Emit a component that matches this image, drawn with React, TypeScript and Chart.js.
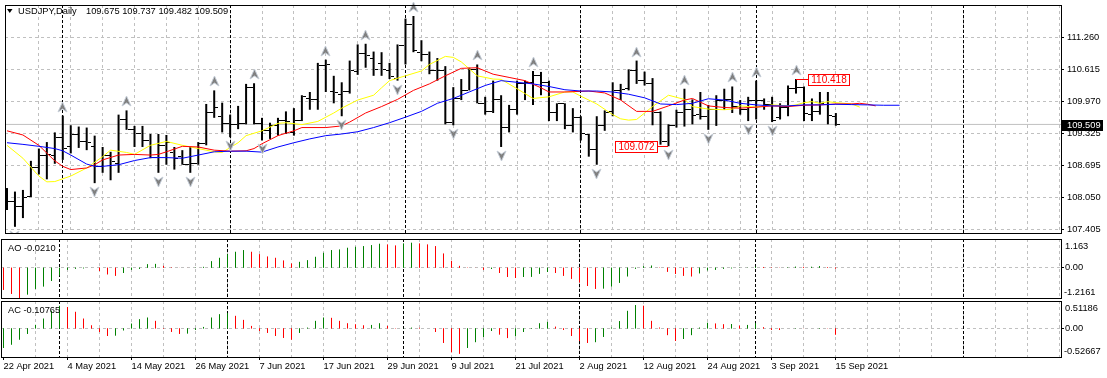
import React, { useEffect, useRef } from 'react';
import { Chart, registerables } from 'chart.js';

Chart.register(...registerables);

/* ---------------- values ---------------- */
const symbolTitle = 'USDJPY,Daily';
const xTickLabels = ['22 Apr 2021', '4 May 2021', '14 May 2021', '26 May 2021', '7 Jun 2021', '17 Jun 2021', '29 Jun 2021', '9 Jul 2021', '21 Jul 2021', '2 Aug 2021', '12 Aug 2021', '24 Aug 2021', '3 Sep 2021', '15 Sep 2021'];
const barsPerLabel = 8;
const gridEveryBars = 4;
const monthStartBars = [7, 28, 50, 72, 94, 120];
const priceTicks = [111.26, 110.615, 109.97, 109.325, 108.695, 108.05, 107.405];
const priceViewMin = 107.333;
const priceViewMax = 111.902;
const lastPrice = 109.509;

const open = [
  107.975, 107.956, 107.859, 108.066, 108.649, 108.895, 108.895, 109.252, 109.057, 109.297,
  109.168, 109.057, 108.669, 108.895, 108.733, 109.608, 109.414, 109.317, 109.187, 108.844,
  109.090, 108.947, 108.863, 108.701, 108.733, 109.122, 109.738, 109.673, 109.530, 109.517,
  109.530, 110.256, 109.530, 109.381, 109.492, 109.595, 109.349, 109.595, 110.029, 110.016,
  110.697, 110.178, 110.114, 110.178, 110.567, 110.937, 110.839, 110.723, 110.580, 110.438,
  111.099, 111.520, 110.956, 110.904, 110.593, 110.580, 109.556, 110.029, 110.191, 110.613,
  109.932, 109.770, 110.010, 109.446, 109.816, 110.321, 110.353, 110.483, 110.353, 109.751,
  109.919, 109.479, 109.641, 109.297, 109.012, 109.479, 109.770, 110.191, 110.224, 110.580,
  110.399, 110.321, 109.751, 109.168, 109.479, 109.751, 109.803, 109.705, 109.673, 109.803,
  109.997, 110.010, 109.867, 109.803, 109.997, 109.984, 109.900, 109.641, 109.855, 110.224,
  110.243, 109.705, 109.770, 109.900, 109.675,
];
const high = [
  108.234, 108.163, 108.196, 108.779, 109.025, 109.155, 109.349, 109.686, 109.492, 109.466,
  109.446, 109.284, 109.057, 108.960, 109.705, 109.790, 109.479, 109.479, 109.317, 109.317,
  109.297, 109.057, 108.993, 109.057, 109.155, 109.919, 110.191, 109.945, 109.705, 109.880,
  110.321, 110.334, 109.641, 109.543, 109.641, 109.770, 109.835, 110.094, 110.159, 110.742,
  110.807, 110.483, 110.353, 110.788, 111.112, 111.125, 110.969, 110.956, 110.742, 111.112,
  111.630, 111.682, 111.196, 110.969, 110.839, 110.677, 110.256, 110.418, 110.645, 110.710,
  110.062, 110.386, 110.094, 109.900, 110.386, 110.386, 110.580, 110.561, 110.386, 109.932,
  109.932, 109.835, 109.673, 109.317, 109.673, 109.790, 110.353, 110.321, 110.613, 110.788,
  110.567, 110.437, 109.770, 109.511, 109.803, 110.224, 110.010, 110.159, 109.900, 110.094,
  110.224, 110.269, 109.997, 110.062, 110.386, 110.029, 110.062, 109.932, 110.289, 110.418,
  110.269, 110.029, 110.159, 110.159, 109.737,
];
const low = [
  107.794, 107.457, 107.632, 108.053, 108.507, 108.409, 108.720, 108.798, 108.928, 109.038,
  108.993, 108.332, 108.539, 108.390, 108.539, 109.401, 109.057, 109.057, 108.831, 108.539,
  108.701, 108.604, 108.701, 108.539, 108.701, 109.090, 109.641, 109.349, 109.252, 109.414,
  109.511, 109.511, 109.187, 109.219, 109.284, 109.317, 109.284, 109.576, 109.803, 109.803,
  110.159, 109.932, 109.673, 110.127, 110.502, 110.645, 110.483, 110.483, 110.418, 110.386,
  110.710, 110.956, 110.775, 110.515, 110.386, 109.511, 109.492, 109.997, 110.191, 109.932,
  109.705, 109.738, 109.057, 109.349, 109.705, 109.997, 109.900, 110.094, 109.576, 109.576,
  109.414, 109.349, 109.187, 108.863, 108.701, 109.381, 109.673, 109.997, 110.191, 110.321,
  110.289, 109.492, 109.103, 109.072, 109.446, 109.466, 109.511, 109.608, 109.401, 109.479,
  109.803, 109.738, 109.705, 109.576, 109.608, 109.803, 109.556, 109.608, 109.673, 110.127,
  109.576, 109.576, 109.705, 109.511, 109.482,
];
const close = [
  107.956, 107.859, 108.053, 108.649, 108.895, 108.908, 109.252, 109.025, 109.297, 109.168,
  109.155, 108.669, 108.895, 108.766, 109.608, 109.414, 109.317, 109.187, 108.844, 109.090,
  109.142, 108.831, 108.701, 108.733, 109.122, 109.738, 109.854, 109.530, 109.517, 109.530,
  110.256, 109.530, 109.381, 109.492, 109.595, 109.576, 109.595, 110.062, 110.016, 110.697,
  110.710, 110.140, 110.178, 110.580, 110.937, 110.891, 110.613, 110.613, 110.464, 111.099,
  111.520, 110.982, 110.904, 110.580, 110.580, 109.556, 110.029, 110.191, 110.613, 109.932,
  109.770, 110.010, 109.446, 109.816, 110.321, 110.353, 110.483, 110.353, 109.751, 109.919,
  109.479, 109.641, 109.317, 109.012, 109.479, 109.751, 110.191, 110.204, 110.580, 110.399,
  110.334, 109.751, 109.168, 109.479, 109.751, 109.803, 109.686, 109.673, 109.803, 109.997,
  110.010, 109.867, 109.803, 109.997, 109.984, 109.900, 109.595, 109.855, 110.224, 110.243,
  109.725, 109.770, 109.932, 109.686, 109.509,
];

// Alligator lines (sampled along the drawn curves; bar index -> price)
const jawBars = [0, 2, 4, 6, 7, 8, 10, 11, 12, 14, 16, 18, 20, 22, 24, 26, 28, 30, 32, 34, 36, 38, 40, 42, 44, 46, 48, 50, 52, 54, 56, 58, 60, 62, 64, 66, 68, 70, 72, 74, 76, 78, 80, 82, 84, 86, 88, 90, 92, 94, 96, 98, 100, 102, 104, 106, 108, 110, 112];
const jawValues = [109.142, 109.109, 109.070, 109.025, 108.980, 108.895, 108.714, 108.669, 108.669, 108.701, 108.785, 108.844, 108.844, 108.831, 108.895, 108.960, 108.973, 108.973, 108.954, 109.057, 109.142, 109.219, 109.284, 109.317, 109.362, 109.446, 109.543, 109.654, 109.770, 109.932, 110.029, 110.159, 110.289, 110.386, 110.353, 110.321, 110.269, 110.204, 110.178, 110.178, 110.159, 110.114, 110.042, 109.919, 109.906, 109.932, 110.023, 109.997, 109.932, 109.900, 109.880, 109.880, 109.900, 109.900, 109.913, 109.906, 109.900, 109.893, 109.893];
const teethBars = [0, 2, 4, 6, 7, 8, 10, 11, 12, 14, 16, 18, 19, 20, 22, 24, 26, 28, 30, 31, 32, 34, 36, 37, 40, 42, 43, 45, 47, 49, 51, 53, 55, 57, 59, 61, 63, 65, 67, 68, 70, 73, 75, 77, 79, 81, 83, 85, 86, 88, 90, 92, 94, 96, 98, 100, 102, 104, 106, 107, 108, 109];
const teethValues = [109.381, 109.297, 109.090, 108.779, 108.669, 108.604, 108.636, 108.701, 108.798, 108.895, 108.908, 108.895, 108.908, 108.960, 109.070, 109.057, 108.993, 108.973, 108.980, 109.025, 109.122, 109.284, 109.381, 109.446, 109.446, 109.479, 109.556, 109.738, 109.867, 110.010, 110.191, 110.321, 110.483, 110.632, 110.645, 110.515, 110.451, 110.386, 110.243, 110.159, 110.159, 110.178, 110.140, 109.997, 109.770, 109.770, 109.880, 109.997, 110.029, 109.880, 109.848, 109.835, 109.855, 109.880, 109.867, 109.893, 109.900, 109.919, 109.919, 109.932, 109.913, 109.880];
const lipsBars = [0, 2, 4, 5, 6, 8, 10, 12, 13, 15, 16, 18, 20, 22, 24, 26, 27, 29, 30, 32, 34, 35, 37, 39, 41, 42, 44, 46, 47, 48, 50, 52, 53, 55, 56, 57, 59, 61, 62, 64, 66, 68, 70, 71, 72, 74, 76, 77, 78, 79, 81, 83, 85, 86, 88, 90, 91, 92, 93, 94, 96, 98, 99, 100, 101, 102, 103, 104, 105, 106, 107];
const lipsValues = [109.090, 108.831, 108.474, 108.358, 108.364, 108.474, 108.636, 108.863, 108.993, 108.947, 108.908, 109.090, 109.168, 109.090, 109.025, 108.960, 108.947, 109.142, 109.284, 109.381, 109.530, 109.543, 109.505, 109.569, 109.738, 109.835, 109.997, 110.094, 110.243, 110.386, 110.483, 110.580, 110.710, 110.872, 110.852, 110.762, 110.483, 110.418, 110.412, 110.224, 110.029, 110.062, 110.159, 110.159, 110.075, 109.919, 109.705, 109.621, 109.595, 109.608, 109.867, 110.094, 110.010, 109.867, 109.816, 109.803, 109.816, 109.880, 109.867, 109.855, 109.900, 109.880, 109.900, 109.945, 109.965, 109.932, 109.965, 109.945, 109.932, 109.919, 109.855];

const fractalUpBars = [7, 15, 26, 31, 40, 45, 51, 59, 66, 79, 85, 91, 94, 99];
const fractalDownBars = [1, 11, 19, 23, 28, 32, 42, 49, 56, 62, 74, 83, 88, 93, 96];

const lowMarkBar = 83;
const lowMarkValue = 109.072;
const highMarkBar = 99;
const highMarkValue = 110.418;

const aoValues = [
  -0.879, -1.041, -1.216, -1.068, -0.838, -0.744, -0.527, -0.297, -0.068, -0.027,
  -0.014, 0.004, -0.122, -0.257, -0.311, -0.203, -0.068, -0.030, 0.149, 0.160,
  0.081, 0.020, 0.005, 0.003, 0.012, 0.041, 0.270, 0.406, 0.554, 0.649,
  0.717, 0.649, 0.554, 0.460, 0.406, 0.300, 0.176, 0.243, 0.311, 0.446,
  0.608, 0.717, 0.743, 0.811, 0.851, 0.878, 0.919, 0.973, 0.946, 0.905,
  0.987, 1.014, 0.987, 0.946, 0.878, 0.581, 0.284, 0.081, 0.014, 0.005,
  -0.068, -0.041, -0.203, -0.365, -0.406, -0.365, -0.351, -0.230, -0.162, -0.203,
  -0.311, -0.433, -0.581, -0.730, -0.838, -0.825, -0.744, -0.595, -0.338, -0.027,
  0.068, 0.095, 0.014, -0.149, -0.243, -0.311, -0.338, -0.216, -0.095, -0.068,
  -0.027, -0.014, -0.005, 0.010, 0.045, 0.035, 0.020, 0.010, 0.020, 0.050,
  0.040, 0.045, 0.070, 0.030, -0.021,
];
const aoBeforeFirst = -0.85;
const aoScaleMax = 1.163;
const aoScaleMin = -1.2161;

const acValues = [
  -0.356, -0.293, -0.200, -0.094, 0.070, 0.187, 0.331, 0.424, 0.400, 0.312,
  0.187, 0.062, -0.062, -0.137, -0.125, -0.030, 0.094, 0.175, 0.206, 0.144,
  -0.005, -0.056, -0.094, -0.087, -0.020, 0.031, 0.206, 0.268, 0.287, 0.237,
  0.162, 0.050, -0.044, -0.075, -0.137, -0.169, -0.200, -0.075, 0.019, 0.144,
  0.206, 0.200, 0.144, 0.100, 0.081, 0.062, 0.068, 0.100, 0.050, -0.003,
  0.005, 0.019, 0.015, 0.000, -0.062, -0.262, -0.437, -0.462, -0.356, -0.250,
  -0.156, -0.044, -0.106, -0.175, -0.140, -0.062, -0.005, 0.100, 0.125, 0.037,
  -0.020, -0.137, -0.231, -0.262, -0.250, -0.150, 0.020, 0.140, 0.330, 0.437,
  0.425, 0.144, 0.020, -0.120, -0.230, -0.190, -0.120, 0.020, 0.109, 0.096,
  0.082, 0.085, 0.055, 0.068, 0.100, 0.027, -0.020, -0.025, 0.000, 0.008,
  0.003, 0.000, 0.010, 0.005, -0.10765,
];
const acBeforeFirst = -0.40;
const acScaleMax = 0.51186;
const acScaleMin = -0.52667;

/* ---------------- styling / layout ---------------- */
const FONT_FAMILY = "'Liberation Sans', Arial, Helvetica, sans-serif";
const FONT_SIZE = 9.3;
const GRID_COLOR = '#c0c0c0';
const GRID_DASH = [3, 3];
const SEP_DASH = [3, 2];
const GREEN = '#008000';
const RED = '#ff0000';
const AXIS_WIDTH = 46;
const X_MIN = -0.25;
const X_MAX = 132.25;
const W = 1107;

const labelAt = (v: number) =>
  v % barsPerLabel === 0 && v / barsPerLabel < xTickLabels.length ? xTickLabels[v / barsPerLabel] : '';

function gridTicks() {
  const t: { value: number }[] = [];
  for (let v = 0; v <= X_MAX; v += gridEveryBars) t.push({ value: v });
  return t;
}

function makeXScale(shift: number, showLabels: boolean): any {
  return {
    type: 'linear',
    min: X_MIN - shift,
    max: X_MAX - shift,
    offset: false,
    afterBuildTicks: (axis: any) => {
      axis.ticks = gridTicks();
    },
    afterFit: (axis: any) => {
      axis.height = showLabels ? 21 : 0;
      axis.paddingLeft = 0;
      axis.paddingRight = 0;
    },
    ticks: {
      display: showLabels,
      autoSkip: false,
      maxRotation: 0,
      minRotation: 0,
      align: 'start',
      padding: 1,
      color: '#000',
      font: { family: FONT_FAMILY, size: FONT_SIZE },
      callback: (v: any) => labelAt(Number(v)),
    },
    grid: {
      offset: false,
      drawOnChartArea: true,
      drawTicks: showLabels,
      tickLength: 3,
      lineWidth: 1,
      color: (c: any) => (c.tick && c.tick.value === 0 ? 'rgba(0,0,0,0)' : GRID_COLOR),
      tickColor: (c: any) => (c.tick && labelAt(c.tick.value) ? '#000' : 'rgba(0,0,0,0)'),
    },
    border: { display: false, dash: GRID_DASH },
  };
}

function drawFrame(ctx: CanvasRenderingContext2D, a: any) {
  ctx.save();
  ctx.setLineDash([]);
  ctx.strokeStyle = '#000';
  ctx.lineWidth = 1;
  ctx.strokeRect(a.left + 0.5, a.top + 0.5, a.right - a.left, a.bottom - a.top);
  ctx.restore();
}

function drawSeparators(chart: any) {
  const { ctx, chartArea: a, scales } = chart;
  ctx.save();
  ctx.beginPath();
  ctx.rect(a.left, a.top, a.right - a.left, a.bottom - a.top);
  ctx.clip();
  ctx.strokeStyle = '#000';
  ctx.lineWidth = 1;
  ctx.setLineDash(SEP_DASH);
  for (const b of monthStartBars) {
    const px = Math.floor(scales.x.getPixelForValue(b)) + 0.5;
    ctx.beginPath();
    ctx.moveTo(px, a.top);
    ctx.lineTo(px, a.bottom);
    ctx.stroke();
  }
  ctx.restore();
}

function drawPriceMark(ctx: CanvasRenderingContext2D, px: number, py: number, text: string, side: 'left' | 'right') {
  ctx.save();
  ctx.font = `10px ${FONT_FAMILY}`;
  const w = Math.ceil(ctx.measureText(text).width) + 6;
  const h = 12;
  const cy = Math.round(py);
  const bx = side === 'left' ? Math.round(px) - 10 - w : Math.round(px) + 12;
  ctx.strokeStyle = RED;
  ctx.lineWidth = 1;
  ctx.beginPath();
  if (side === 'left') {
    ctx.moveTo(bx + w, cy + 0.5);
    ctx.lineTo(Math.round(px), cy + 0.5);
  } else {
    ctx.moveTo(Math.round(px), cy + 0.5);
    ctx.lineTo(bx, cy + 0.5);
  }
  ctx.stroke();
  ctx.fillStyle = '#fff';
  ctx.fillRect(bx, cy - 5, w, h);
  ctx.strokeRect(bx + 0.5, cy - 5 + 0.5, w - 1, h - 1);
  ctx.fillStyle = RED;
  ctx.textAlign = 'center';
  ctx.textBaseline = 'middle';
  ctx.fillText(text, bx + w / 2, cy + 1.5);
  ctx.restore();
}

const crispImages = {
  id: 'crispImages',
  beforeDatasetsDraw(chart: any) {
    chart.ctx.imageSmoothingEnabled = false;
  },
};

const mainOverlay = {
  id: 'mainOverlay',
  beforeDatasetsDraw(chart: any) {
    drawSeparators(chart);
  },
  afterDraw(chart: any) {
    const { ctx, chartArea: a, scales } = chart;
    drawFrame(ctx, a);
    const last = close.length - 1;
    ctx.save();
    ctx.fillStyle = '#000';
    ctx.beginPath();
    ctx.moveTo(7, 9);
    ctx.lineTo(12.5, 9);
    ctx.lineTo(9.75, 13);
    ctx.closePath();
    ctx.fill();
    ctx.font = `${FONT_SIZE}px ${FONT_FAMILY}`;
    ctx.textBaseline = 'middle';
    ctx.textAlign = 'left';
    ctx.fillText(symbolTitle, 18, 11);
    ctx.fillText(
      [open[last], high[last], low[last], close[last]].map((v) => v.toFixed(3)).join(' '),
      86,
      11,
    );
    const py = Math.round(scales.y.getPixelForValue(lastPrice));
    ctx.fillStyle = '#000';
    ctx.fillRect(a.right + 1, py - 4, 41, 11);
    ctx.fillStyle = '#fff';
    ctx.fillText(lastPrice.toFixed(3), a.right + 6, py + 1.5);
    ctx.restore();
    drawPriceMark(ctx, scales.x.getPixelForValue(lowMarkBar), scales.y.getPixelForValue(lowMarkValue), lowMarkValue.toFixed(3), 'left');
    drawPriceMark(ctx, scales.x.getPixelForValue(highMarkBar), scales.y.getPixelForValue(highMarkValue), highMarkValue.toFixed(3), 'right');
  },
};

function makeIndicatorOverlay(title: string, maxText: string, minText: string) {
  return {
    id: 'indicatorOverlay',
    beforeDatasetsDraw(chart: any) {
      drawSeparators(chart);
    },
    afterDraw(chart: any) {
      const { ctx, chartArea: a } = chart;
      drawFrame(ctx, a);
      ctx.save();
      ctx.font = `${FONT_SIZE}px ${FONT_FAMILY}`;
      ctx.fillStyle = '#000';
      ctx.textBaseline = 'middle';
      ctx.textAlign = 'left';
      ctx.fillText(title, 8, a.top + 9.5);
      ctx.fillText(maxText, a.right + 4, a.top + 7);
      ctx.fillText(minText, a.right + 3, a.bottom - 6);
      ctx.restore();
    },
  };
}

function makeTickImage(side: 'left' | 'right') {
  const c = document.createElement('canvas');
  c.width = 10;
  c.height = 1;
  const g = c.getContext('2d')!;
  g.fillStyle = '#000';
  g.fillRect(side === 'left' ? 1 : 6, 0, 3, 1);
  return c;
}

function makeFractalImage(up: boolean) {
  const c = document.createElement('canvas');
  c.width = 11;
  c.height = 30;
  const g = c.getContext('2d')!;
  g.beginPath();
  if (up) {
    g.moveTo(5.5, 1);
    g.lineTo(10, 11);
    g.lineTo(5.5, 8);
    g.lineTo(1, 11);
  } else {
    g.moveTo(5.5, 29);
    g.lineTo(10, 19);
    g.lineTo(5.5, 22);
    g.lineTo(1, 19);
  }
  g.closePath();
  g.fillStyle = '#808080';
  g.fill();
  g.strokeStyle = '#c4ccd6';
  g.lineWidth = 1;
  g.stroke();
  return c;
}

function commonOptions(): any {
  return {
    responsive: false,
    maintainAspectRatio: false,
    animation: false,
    events: [],
    plugins: { legend: { display: false }, tooltip: { enabled: false }, title: { display: false }, colors: { enabled: false } },
  };
}

function mainConfig(): any {
  const openImg = makeTickImage('left');
  const closeImg = makeTickImage('right');
  const upImg = makeFractalImage(true);
  const downImg = makeFractalImage(false);
  const line = (bars: number[], vals: number[], color: string) => ({
    type: 'line',
    data: bars.map((b, k) => ({ x: b, y: vals[k] })),
    borderColor: color,
    borderWidth: 1,
    pointRadius: 0,
    tension: 0,
    fill: false,
    order: 3,
  });
  return {
    type: 'line',
    data: {
      datasets: [
        {
          type: 'line',
          data: [
            { x: X_MIN, y: lastPrice },
            { x: X_MAX, y: lastPrice },
          ],
          borderColor: '#c0c0c0',
          borderWidth: 1,
          pointRadius: 0,
          order: 10,
        },
        {
          type: 'bar',
          data: high.map((h, i) => ({ x: i, y: [low[i], h] })),
          backgroundColor: '#000',
          barThickness: 2,
          inflateAmount: 0,
          borderWidth: 0,
          order: 6,
        },
        {
          type: 'line',
          data: open.map((v, i) => ({ x: i, y: v })),
          showLine: false,
          pointStyle: openImg,
          pointRadius: 3,
          order: 5,
        },
        {
          type: 'line',
          data: close.map((v, i) => ({ x: i, y: v })),
          showLine: false,
          pointStyle: closeImg,
          pointRadius: 3,
          order: 5,
        },
        line(jawBars, jawValues, '#0000ff'),
        line(teethBars, teethValues, '#ff0000'),
        line(lipsBars, lipsValues, '#ffff00'),
        {
          type: 'line',
          data: fractalUpBars.map((b) => ({ x: b, y: high[b] })),
          showLine: false,
          pointStyle: upImg,
          pointRadius: 3,
          clip: false,
          order: 1,
        },
        {
          type: 'line',
          data: fractalDownBars.map((b) => ({ x: b, y: low[b] })),
          showLine: false,
          pointStyle: downImg,
          pointRadius: 3,
          order: 1,
        },
      ],
    },
    options: {
      ...commonOptions(),
      layout: { padding: { left: 1, right: 0, top: 2, bottom: 1 } },
      scales: {
        x: makeXScale(0, false),
        y: {
          type: 'linear',
          position: 'right',
          min: priceViewMin,
          max: priceViewMax,
          afterBuildTicks: (axis: any) => {
            axis.ticks = priceTicks.map((v) => ({ value: v }));
          },
          afterFit: (axis: any) => {
            axis.width = AXIS_WIDTH;
            axis.paddingTop = 0;
            axis.paddingBottom = 0;
          },
          ticks: {
            autoSkip: false,
            padding: 3,
            color: '#000',
            font: { family: FONT_FAMILY, size: FONT_SIZE },
            callback: (v: any) => Number(v).toFixed(3),
          },
          grid: { color: GRID_COLOR, tickLength: 3, tickColor: '#000', lineWidth: 1 },
          border: { display: false, dash: GRID_DASH },
        },
      },
    },
    plugins: [crispImages, mainOverlay],
  };
}

// histogram drawn as one vertical 1px stroke per bar (zero -> value), split by colour
function histogramSet(values: number[], keep: boolean[], color: string) {
  const data: any[] = [];
  values.forEach((v, i) => {
    if (!keep[i]) return;
    data.push({ x: i, y: 0 }, { x: i, y: v }, { x: i, y: null });
  });
  return {
    type: 'line',
    data,
    borderColor: color,
    backgroundColor: color,
    borderWidth: 1,
    pointRadius: 0,
    spanGaps: false,
    tension: 0,
    fill: false,
    borderCapStyle: 'butt',
  };
}

function indicatorConfig(
  name: string,
  values: number[],
  beforeFirst: number,
  sMin: number,
  sMax: number,
  decimals: number,
  showX: boolean,
  padBottom: number,
): any {
  const rising = values.map((v, i) => v > (i === 0 ? beforeFirst : values[i - 1]));
  const title = `${name} ${values[values.length - 1].toFixed(decimals)}`;
  return {
    type: 'line',
    data: {
      datasets: [
        histogramSet(values, rising, GREEN),
        histogramSet(values, rising.map((r) => !r), RED),
      ],
    },
    options: {
      ...commonOptions(),
      layout: { padding: { left: 1, right: 0, top: 1, bottom: padBottom } },
      scales: {
        x: makeXScale(0.0625, showX),
        y: {
          type: 'linear',
          position: 'right',
          min: sMin,
          max: sMax,
          afterBuildTicks: (axis: any) => {
            axis.ticks = [{ value: 0 }];
          },
          afterFit: (axis: any) => {
            axis.width = AXIS_WIDTH;
            axis.paddingTop = 0;
            axis.paddingBottom = 0;
          },
          ticks: {
            autoSkip: false,
            padding: 1,
            color: '#000',
            font: { family: FONT_FAMILY, size: FONT_SIZE },
            callback: () => (0).toFixed(2),
          },
          grid: { color: GRID_COLOR, tickLength: 3, tickColor: '#000', lineWidth: 1 },
          border: { display: false, dash: GRID_DASH },
        },
      },
    },
    plugins: [makeIndicatorOverlay(title, String(sMax), String(sMin))],
  };
}

export default function App() {
  const mainRef = useRef<HTMLCanvasElement>(null);
  const aoRef = useRef<HTMLCanvasElement>(null);
  const acRef = useRef<HTMLCanvasElement>(null);

  useEffect(() => {
    const charts: Chart[] = [];
    if (mainRef.current) charts.push(new Chart(mainRef.current, mainConfig()));
    if (aoRef.current)
      charts.push(new Chart(aoRef.current, indicatorConfig('AO', aoValues, aoBeforeFirst, aoScaleMin, aoScaleMax, 4, false, 2)));
    if (acRef.current)
      charts.push(new Chart(acRef.current, indicatorConfig('AC', acValues, acBeforeFirst, acScaleMin, acScaleMax, 5, true, 0)));
    return () => charts.forEach((c) => c.destroy());
  }, []);

  return (
    <div style={{ position: 'fixed', left: 0, top: 0, width: W, height: 378, background: '#fff', overflow: 'hidden' }}>
      <canvas ref={mainRef} width={W} height={238} style={{ position: 'absolute', left: 0, top: 0, width: W, height: 238 }} />
      <canvas ref={aoRef} width={W} height={62} style={{ position: 'absolute', left: 0, top: 238, width: W, height: 62 }} />
      <canvas ref={acRef} width={W} height={78} style={{ position: 'absolute', left: 0, top: 300, width: W, height: 78 }} />
    </div>
  );
}
